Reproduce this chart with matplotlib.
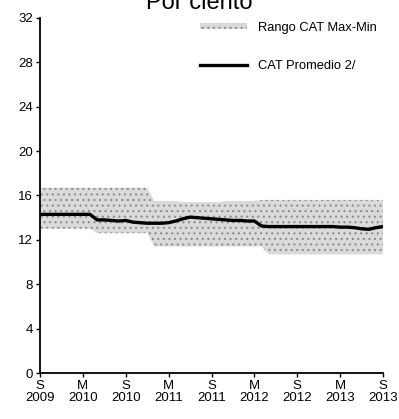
import matplotlib
matplotlib.use('Agg')
import matplotlib.pyplot as plt

plt.rcParams['font.family'] = ['Liberation Sans', 'DejaVu Sans']
plt.rcParams['hatch.color'] = '#8c8c8c'
plt.rcParams['hatch.linewidth'] = 0.8

# monthly data, Sep 2009 .. Sep 2013 (index 0..48)
months = list(range(49))

cat_max = [16.7] * 16 + [15.5, 15.5, 15.5, 15.5, 15.4, 15.4, 15.4, 15.4, 15.4, 15.4,
                         15.5, 15.5, 15.5, 15.5, 15.5, 15.6, 15.6, 15.6, 15.6, 15.6,
                         15.6, 15.6, 15.6, 15.6, 15.6, 15.6, 15.6, 15.6, 15.6, 15.6,
                         15.6, 15.6, 15.6]
cat_min = [13.0] * 8 + [12.6] * 8 + [11.4] * 16 + [10.7] * 17
cat_avg = [14.3, 14.3, 14.3, 14.3, 14.3, 14.3, 14.3, 14.3,
           13.8, 13.8, 13.75, 13.7, 13.75, 13.6, 13.55, 13.5,
           13.5, 13.5, 13.55, 13.7, 13.9, 14.05, 14.0, 13.95,
           13.9, 13.85, 13.8, 13.75, 13.75, 13.7, 13.7, 13.25,
           13.2, 13.2, 13.2, 13.2, 13.2, 13.2, 13.2, 13.2,
           13.2, 13.2, 13.15, 13.15, 13.1, 13.0, 12.95, 13.1, 13.2]

tick_pos = [0, 6, 12, 18, 24, 30, 36, 42, 48]
tick_labels = ['S\n2009', 'M\n2010', 'S\n2010', 'M\n2011', 'S\n2011',
               'M\n2012', 'S\n2012', 'M\n2013', 'S\n2013']


def main():
    fig = plt.figure(figsize=(3.99, 4.19), dpi=100)
    ax = fig.add_axes([40 / 399, 1 - 373 / 419, 343 / 399, 355 / 419])

    band = ax.fill_between(months, cat_min, cat_max, facecolor='#dadada',
                           edgecolor='none', hatch='...', linewidth=0,
                           label='Rango CAT Max-Min')
    line, = ax.plot(months, cat_avg, color='black', linewidth=2.4,
                    label='CAT Promedio 2/')

    ax.set_xlim(0, 48)
    ax.set_ylim(0, 32)
    ax.set_yticks(range(0, 33, 4))
    ax.set_xticks(tick_pos)
    ax.set_xticklabels(tick_labels, linespacing=1.0)
    ax.tick_params(labelsize=9.5, length=3, width=1, direction='out', pad=2)
    for side in ('top', 'right'):
        ax.spines[side].set_visible(False)
    for side in ('left', 'bottom'):
        ax.spines[side].set_linewidth(1.3)

    fig.text(0.5, 1 - 9 / 419, 'Por ciento', ha='center', va='baseline',
             fontsize=17)

    ax.legend(handles=[band, line], loc='upper left', frameon=False,
              bbox_to_anchor=(200 / 399, 1 - 22 / 419),
              bbox_transform=fig.transFigure, fontsize=9.3,
              handlelength=3.6, handleheight=0.35, handletextpad=0.9,
              labelspacing=2.0, borderpad=0, borderaxespad=0)

    plt.savefig('out.png', dpi=100)


if __name__ == '__main__':
    main()
